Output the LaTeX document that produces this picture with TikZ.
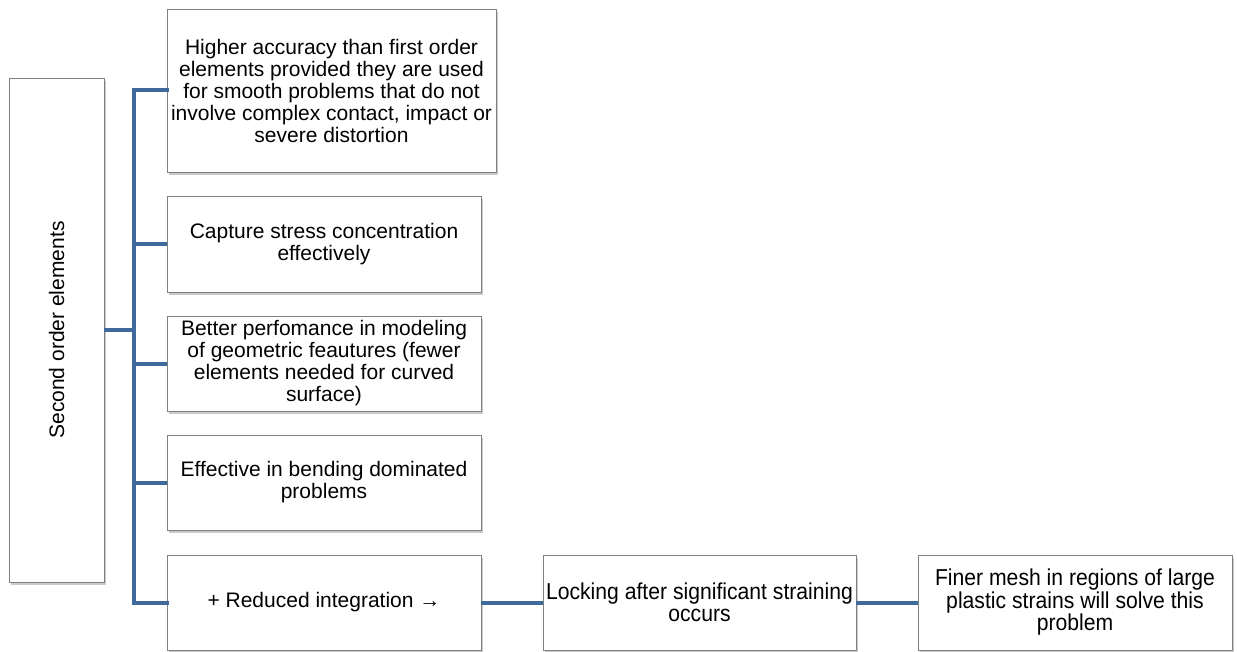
\documentclass[tikz,border=0pt]{standalone}
\usepackage{fontspec}
\setmainfont{Liberation Sans}
\newfontfamily\narrowfont[FakeStretch=0.92]{Liberation Sans}
\usetikzlibrary{shadows}
\definecolor{linkblue}{RGB}{62,106,158}
\definecolor{boxgray}{RGB}{128,128,128}
\tikzset{
  card/.style={draw=boxgray, line width=0.9pt, fill=white, align=center,
    inner sep=1pt, font=\fontsize{21}{22}\selectfont,
    drop shadow={shadow xshift=2pt, shadow yshift=-3pt, opacity=0.35, fill=black!60}},
  link/.style={draw=linkblue, line width=4pt}
}
\begin{document}
\begin{tikzpicture}[x=1pt, y=-1pt]
\useasboundingbox (0,0) rectangle (1237,652);
% root box with vertical caption
\node[card, minimum width=95pt, minimum height=504pt] (root) at (56.5,330) {};
\node[rotate=90, font=\fontsize{21}{22}\selectfont] (rootlabel) at (root.center) {Second order elements};
% property boxes
\node[card, minimum width=329pt, minimum height=163pt] (b1) at (331.5,90.5)
  {Higher accuracy than first order\\elements provided they are used\\for smooth problems that do not\\involve complex contact, impact or\\severe distortion};
\node[card, minimum width=314pt, minimum height=96pt] (b2) at (324,244)
  {Capture stress concentration\\effectively};
\node[card, minimum width=314pt, minimum height=95pt] (b3) at (324,363.5)
  {Better perfomance in modeling\\of geometric feautures (fewer\\elements needed for curved\\surface)};
\node[card, minimum width=314pt, minimum height=95pt] (b4) at (324,482.5)
  {Effective in bending dominated\\problems};
\node[card, minimum width=314pt, minimum height=95pt] (b5) at (324,602.5)
  {+ Reduced integration →};
\node[card, minimum width=313pt, minimum height=95pt, font=\narrowfont\fontsize{23}{22}\selectfont] (b6) at (699.5,602.5)
  {Locking after significant straining\\occurs};
\node[card, minimum width=314pt, minimum height=95pt, font=\narrowfont\fontsize{23}{22.5}\selectfont] (b7) at (1075,602.5)
  {Finer mesh in regions of large\\plastic strains will solve this\\problem};
% tree connectors
\coordinate (trunk) at (134,330);
\draw[link] (root.east |- trunk) -- (trunk);
\draw[link, line cap=rect] (b1.west) -| (trunk) |- (b5.west);
\draw[link] (b2.west) -- (b2.west -| trunk);
\draw[link] (b3.west) -- (b3.west -| trunk);
\draw[link] (b4.west) -- (b4.west -| trunk);
\draw[link] (b5.east) -- (b6.west);
\draw[link] (b6.east) -- (b7.west);
\end{tikzpicture}
\end{document}
